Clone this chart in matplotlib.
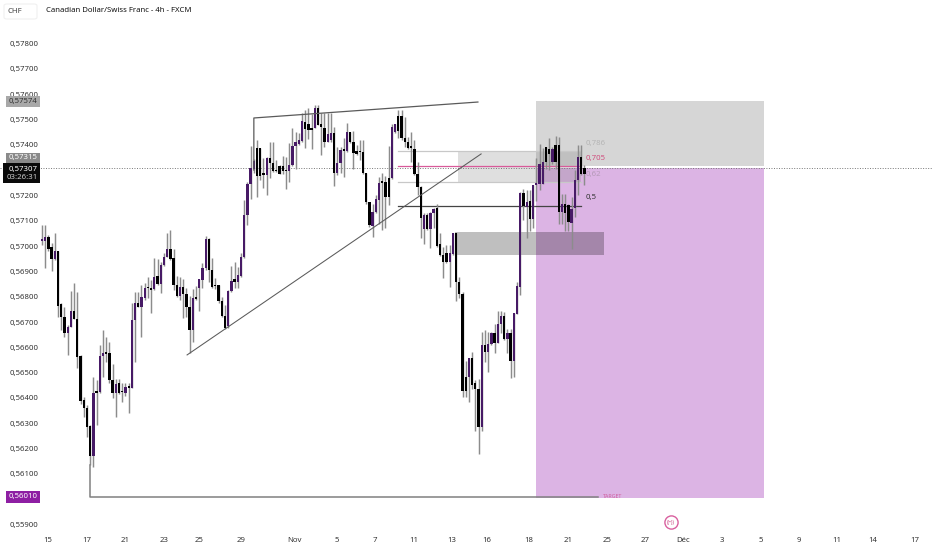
import numpy as np
import matplotlib
matplotlib.use("Agg")
import matplotlib.pyplot as plt
from matplotlib.patches import Rectangle, FancyBboxPatch

plt.rcParams['font.family'] = ['Noto Sans', 'DejaVu Sans']

TITLE = "Canadian Dollar/Swiss Franc - 4h - FXCM"

# OHLC, in 1e-5 CHF
highs = [57083,57083,57044,57011,57053,56982,56774,56758,56688,56824,56853,56820,56570,56405,56372,56293,56481,56471,56609,56668,
56639,56622,56534,56473,56473,56458,56458,56460,56774,56820,56820,56846,56853,56879,56866,56954,56948,56938,56971,57053,
57063,56987,56882,56879,56869,56833,56803,56829,56842,56869,56932,57040,57031,56952,56873,56846,56797,56767,56826,56921,
56938,56919,56971,57182,57254,57395,57345,57419,57389,57346,57353,57412,57412,57340,57320,57356,57350,57408,57465,57452,
57445,57524,57537,57544,57521,57557,57559,57524,57526,57524,57524,57471,57392,57392,57425,57487,57451,57455,57399,57418,
57418,57287,57175,57166,57201,57271,57287,57276,57395,57484,57484,57537,57537,57511,57432,57451,57418,57333,57237,57129,
57129,57135,57149,57168,57050,56997,57004,57004,57052,57052,56879,56819,56547,56556,56580,56470,56473,56659,56670,56661,
56661,56694,56744,56744,56740,56674,56674,56734,56859,57214,57227,57221,57221,57243,57346,57405,57388,57392,57427,57392,
57434,57431,57207,57207,57168,57194,57300,57398,57398,57319]
opens = [57021,57021,57037,56995,56948,56979,56770,56718,56655,56682,56745,56711,56567,56392,56359,56289,56171,56422,56422,56566,
56576,56576,56471,56418,56458,56425,56421,56442,56441,56708,56776,56761,56794,56836,56829,56829,56882,56849,56925,56958,
56988,56952,56846,56803,56837,56811,56761,56668,56794,56833,56866,56912,57027,56905,56846,56846,56783,56724,56684,56824,
56869,56858,56882,56955,57123,57244,57303,57386,57386,57283,57281,57349,57327,57298,57317,57317,57300,57296,57320,57396,
57405,57416,57491,57482,57468,57465,57544,57484,57468,57412,57418,57445,57289,57329,57379,57376,57449,57412,57375,57372,
57372,57287,57175,57079,57133,57181,57251,57254,57267,57267,57451,57513,57513,57425,57412,57389,57385,57283,57234,57066,
57122,57066,57129,57149,57010,56964,56971,56938,56968,57052,56859,56810,56484,56484,56556,56460,56437,56286,56609,56580,
56613,56657,56619,56692,56723,56632,56655,56545,56731,56839,57211,57155,57177,57106,57243,57247,57247,57392,57385,57333,
57401,57401,57135,57168,57164,57093,57151,57260,57352,57307]
closes = [57027,57037,56987,56948,56982,56763,56718,56655,56682,56745,56711,56560,56388,56359,56286,56171,56421,56421,56566,56576,
56575,56471,56418,56455,56418,56423,56442,56441,56708,56776,56761,56797,56833,56834,56828,56879,56850,56925,56958,56988,
56948,56846,56803,56840,56811,56761,56668,56794,56792,56869,56915,57027,56905,56840,56842,56783,56724,56675,56824,56863,
56858,56886,56958,57123,57244,57307,57336,57278,57278,57281,57349,57327,57298,57296,57285,57298,57296,57320,57396,57412,
57418,57495,57461,57458,57458,57544,57480,57471,57412,57441,57445,57289,57330,57379,57376,57449,57412,57366,57363,57370,
57287,57175,57083,57135,57185,57251,57250,57192,57192,57471,57484,57455,57425,57412,57389,57388,57283,57234,57109,57122,
57066,57131,57145,57000,56964,56938,56938,56971,57052,56859,56810,56427,56427,56556,56453,56437,56286,56609,56580,56615,
56657,56618,56694,56723,56632,56655,56545,56734,56842,57210,57157,57175,57106,57243,57251,57326,57333,57333,57362,57385,
57333,57135,57168,57132,57096,57148,57260,57352,57284,57283]
lows = [57004,56912,56982,56903,56945,56718,56668,56639,56570,56682,56711,56517,56376,56326,56247,56135,56128,56293,56418,56484,
56543,56458,56398,56326,56415,56385,56408,56339,56438,56543,56761,56642,56787,56794,56737,56826,56846,56816,56923,56955,
56945,56826,56800,56787,56714,56721,56576,56622,56787,56745,56833,56905,56859,56833,56829,56776,56721,56671,56675,56820,
56833,56833,56879,56951,57083,57184,57287,57195,57261,57228,57202,57267,57294,57294,57283,57285,57224,57254,57316,57304,
57399,57412,57386,57421,57382,57465,57478,57359,57392,57412,57412,57237,57280,57287,57271,57372,57408,57306,57359,57339,
57283,57168,57076,57037,57129,57089,57065,57073,57162,57264,57447,57425,57418,57392,57385,57333,57280,57201,57030,57010,
57063,56991,57070,56997,56962,56872,56935,56839,56964,56784,56793,56402,56402,56385,56437,56270,56177,56270,56543,56501,
56609,56578,56618,56655,56630,56576,56477,56481,56730,56806,57102,57030,57059,57072,57177,57221,57247,57304,57300,57326,
57306,57089,57089,57059,57059,56988,57115,57201,57280,57240]

ytick_pts = [55900,56100,56200,56300,56400,56500,56600,56700,56800,56900,57000,57100,57200,57400,57500,57600,57700,57800]
xtick_pos = [1.9,14,25.8,38,48.9,62,78.8,91.9,103.7,115.8,127.7,138.6,151.7,163.8,176,187.8,199.6,211.7,223.9,235.7,247.6,258.8,271.9]
xtick_labels = ["15","17","21","23","25","29","Nov","5","7","11","13","16","18","21","25","27","Déc","3","5","9","11","14","17"]

P = 1e-5
o, h, l, c = (np.array(a) * P for a in (opens, highs, lows, closes))
idx = np.arange(len(o))

fig = plt.figure(figsize=(9.32, 5.5), dpi=100)
ax = fig.add_axes([0, 0, 1, 1])
ax.set_xlim(-13.08, 277.26)
ax.set_ylim(57972 * P - 550 * 3.95 * P, 57972 * P)
for s in ax.spines.values():
    s.set_visible(False)
ax.set_axisbelow(False)

# position box
ax.add_patch(Rectangle((153.9, 57315*P), 71, (57574-57315)*P, fc="#d6d6d6", ec="none", zorder=1))
ax.add_patch(Rectangle((153.9, 56005*P), 71, (57307-56005)*P, fc="#dcb4e4", ec="none", zorder=1))
# demand zone
ax.add_patch(Rectangle((128.6, 56965*P), 46.5, 90*P, fc="black", alpha=0.25, ec="none", zorder=1.2))
# fib zone
ax.add_patch(Rectangle((129.5, 57252*P), 38.5, 125*P, fc="#808080", alpha=0.25, ec="none", zorder=1.2))
# fib lines
fib_pts = [57376, 57315, 57252, 57160]
fib_cols = ["#c8c8c8", "#d85a9a", "#c8c8c8", "#444444"]
fib_labels = ["0,786", "0,705", "0,62", "0,5"]
fib_text_cols = ["#b5b5b5", "#d0507f", "#b59ab8", "#333333"]
fib_text_pts = [57405, 57345, 57282, 57192]
for p, col, lab, tc, tp in zip(fib_pts, fib_cols, fib_labels, fib_text_cols, fib_text_pts):
    ax.plot([110.9, 167.9], [p*P, p*P], color=col, lw=0.9, zorder=1.5)
    ax.text(169.3, tp*P, lab, color=tc, fontsize=5.6, va="center", ha="left", zorder=6)

# current price
ax.axhline(57307*P, color="#777777", lw=0.7, ls=(0, (1, 1.6)), zorder=1.8)

# candles
ax.vlines(idx, l, h, color="#8c8c8c", lw=1.05, zorder=3)
up = c >= o
body_h = np.maximum(np.abs(c - o), 1.5 * 3.95 * P)
ax.bar(idx, body_h, bottom=np.minimum(o, c), width=0.72,
       color=np.where(up, "#471a66", "#000000"), linewidth=0, zorder=4)

# drawings
ax.plot([66, 66, 135.8], [57300*P, 57506*P, 57569*P], color="#5a5a5a", lw=0.9, zorder=5)
ax.plot([45.2, 136.8], [56570*P, 57364*P], color="#5a5a5a", lw=0.75, zorder=5)
ax.plot([14.95, 14.95, 173.3], [56135*P, 56009*P, 56009*P], color="#808080", lw=1.1, zorder=5)
ax.text(174.6, 56009*P, "TARGET", color="#d0609f", fontsize=3.8, va="center", ha="left", zorder=6)

# event marker
ax.scatter([196], [55910*P], s=90, facecolor="white", edgecolor="#d9609f", lw=1.0, zorder=6)
ax.text(196, 55910*P, "((•))", color="#c8407f", fontsize=3.6, ha="center", va="center", zorder=7)

# axes
ax.set_yticks(np.array(ytick_pts) * P)
ax.set_yticklabels([f"0,{v}" for v in ytick_pts], fontsize=5.6, color="#333333", ha="left")
ax.set_xticks(xtick_pos)
ax.set_xticklabels(xtick_labels, fontsize=5.6, color="#333333")
ax.tick_params(axis="y", length=0, pad=-6.6)
ax.tick_params(axis="x", length=0, pad=-9.6)
for t, lab in zip(ax.get_xticklabels(), xtick_labels):
    if lab in ("Nov", "Déc"):
        t.set_fontweight("bold")

# left price labels
yt = ax.get_yaxis_transform()
def tag(px_left, pts_lo, pts_hi, fc):
    ax.add_patch(Rectangle((px_left / 932, pts_lo*P), (40 - px_left) / 932, (pts_hi - pts_lo)*P,
                           transform=yt, fc=fc, ec="none", zorder=9, clip_on=False))
tag(6, 57549, 57593, "#a8a8a8")
ax.text(9/932, 57571*P, "0,57574", transform=yt, fontsize=5.6, color="#333333", va="center", zorder=10)
tag(6, 57328, 57368, "#8a8a8a")
ax.text(9/932, 57348*P, "0,57315", transform=yt, fontsize=5.6, color="white", va="center", zorder=10)
tag(3, 57249, 57328, "#0a0a0a")
ax.text(9/932, 57304*P, "0,57307", transform=yt, fontsize=5.6, color="white", fontweight="bold", va="center", zorder=10)
ax.text(7/932, 57269*P, "03:26:31", transform=yt, fontsize=5.6, color="#cccccc", va="center", zorder=10)
tag(6, 55986, 56034, "#8e1fa3")
ax.text(9/932, 56010*P, "0,56010", transform=yt, fontsize=5.6, color="white", va="center", zorder=10)

# header
ax.add_patch(FancyBboxPatch((4/932, 1 - 19/550), 33/932, 15/550, transform=ax.transAxes,
                            boxstyle="round,pad=0,rounding_size=0.003", fc="white", ec="#eeeeee", lw=0.7, zorder=9))
fig.text(8/932, 1 - 11.5/550, "CHF", fontsize=5.6, color="#444444", va="center")
fig.text(46/932, 1 - 11/550, TITLE, fontsize=5.6, color="#111111", va="center", fontweight="medium")

fig.savefig("out.png", dpi=100, facecolor="white")
